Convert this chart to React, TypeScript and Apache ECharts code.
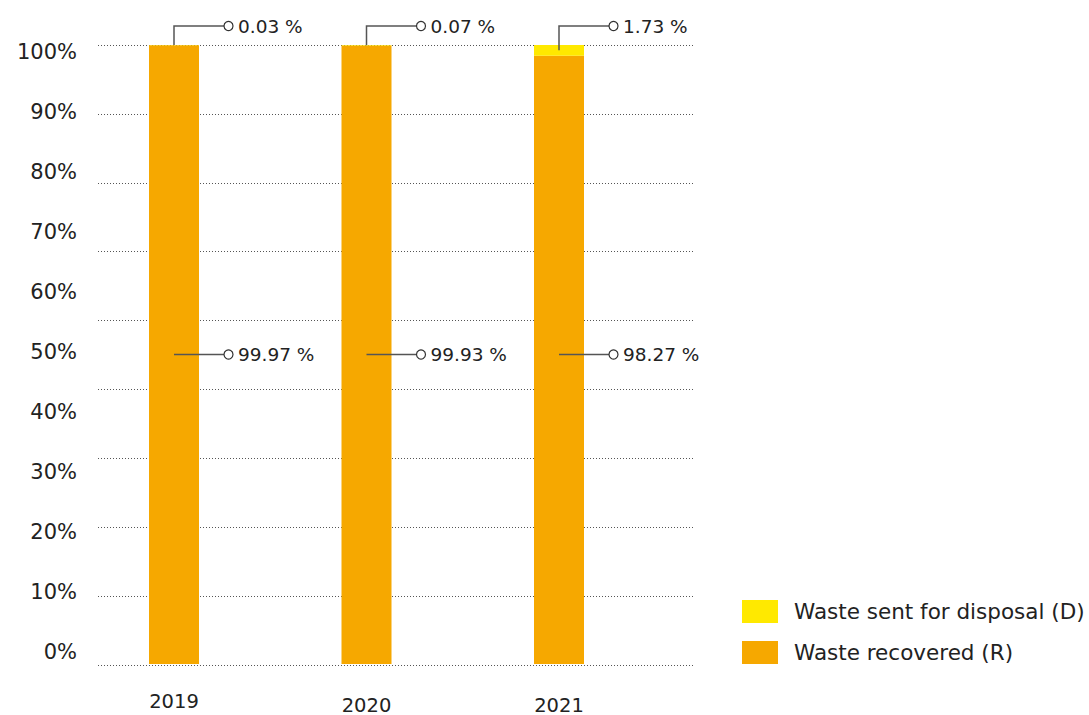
import React, { useEffect, useRef } from "react";
import * as echarts from "echarts";

const categories = ["2019", "2020", "2021"];
const recovered = [99.97, 99.93, 98.27];
const disposal = [0.03, 0.07, 1.73];
const yTickLabels = [0, 10, 20, 30, 40, 50, 60, 70, 80, 90, 100];
const seriesNames = ["Waste sent for disposal (D)", "Waste recovered (R)"];

const FONT = "DejaVu Sans";
const TEXT = "#222";
const ORANGE = "#F6A800";
const YELLOW = "#FFE900";

export default function App() {
  const ref = useRef<HTMLDivElement>(null);
  useEffect(() => {
    document.body.style.margin = "0";
    const chart = echarts.init(ref.current!, null, { renderer: "svg" });

    const labelData = categories.map((_, i) => [i, recovered[i], disposal[i]]);

    const renderLabel = (kind: "top" | "mid") => (params: any, api: any) => {
      const idx = api.value(0);
      const rec = api.value(1);
      const dis = api.value(2);
      const cx = api.coord([idx, 0])[0];
      const children: any[] = [];
      const lineStyle = { stroke: "#555", lineWidth: 1.5 };
      let y: number;
      let txt: string;
      if (kind === "top") {
        const yStart = api.coord([idx, rec + dis / 2])[1];
        y = api.coord([idx, 100])[1] - 19;
        txt = `${dis.toFixed(2)} %`;
        children.push({
          type: "polyline",
          shape: { points: [[cx, yStart], [cx, y], [cx + 50, y]] },
          style: { ...lineStyle, fill: null },
        });
      } else {
        y = api.coord([idx, (rec + dis) / 2])[1];
        txt = `${rec.toFixed(2)} %`;
        children.push({
          type: "line",
          shape: { x1: cx, y1: y, x2: cx + 50, y2: y },
          style: lineStyle,
        });
      }
      children.push({
        type: "circle",
        shape: { cx: cx + 54.5, cy: y, r: 4.5 },
        style: { fill: "#fff", stroke: "#333", lineWidth: 1.2 },
      });
      children.push({
        type: "text",
        x: cx + 64,
        y: y,
        style: {
          text: txt,
          fontSize: 18.5,
          fontFamily: FONT,
          fill: TEXT,
          verticalAlign: "middle",
          align: "left",
        },
      });
      return { type: "group", children };
    };

    chart.setOption({
      animation: false,
      textStyle: { fontFamily: FONT },
      grid: [
        { left: 98, top: 45, width: 597, height: 620 },
        { left: 77.75, top: 45, width: 577.5, height: 624 },
        { left: 98, top: 52, width: 597, height: 600 },
      ],
      xAxis: [
        { gridIndex: 0, type: "category", data: categories, show: false },
        {
          gridIndex: 1,
          type: "category",
          data: categories,
          axisLine: { show: false },
          axisTick: { show: false },
          axisLabel: {
            margin: 27.5,
            fontSize: 19.5,
            fontFamily: FONT,
            color: TEXT,
            formatter: (v: string, i: number) => (i === 0 ? `{a|${v}}` : `{b|${v}}`),
            rich: {
              a: { fontSize: 19.5, fontFamily: FONT, color: TEXT },
              b: { fontSize: 19.5, fontFamily: FONT, color: TEXT, padding: [3.5, 0, 0, 0] },
            },
          },
        },
        { gridIndex: 2, type: "category", data: categories, show: false },
      ],
      yAxis: [
        {
          gridIndex: 0,
          type: "value",
          min: 0,
          max: 9,
          interval: 1,
          axisLabel: { show: false },
          axisLine: { show: false },
          axisTick: { show: false },
          splitLine: { show: true, lineStyle: { color: "#555", type: [1, 2], width: 1 } },
        },
        {
          gridIndex: 1,
          type: "value",
          min: 0,
          max: 100,
          axisLabel: { show: false },
          axisLine: { show: false },
          axisTick: { show: false },
          splitLine: { show: false },
        },
        {
          gridIndex: 2,
          type: "value",
          min: yTickLabels[0],
          max: yTickLabels[yTickLabels.length - 1],
          interval: yTickLabels[1] - yTickLabels[0],
          axisLine: { show: false },
          axisTick: { show: false },
          splitLine: { show: false },
          axisLabel: {
            margin: 21,
            fontSize: 21,
            fontFamily: FONT,
            color: TEXT,
            formatter: "{value}%",
          },
        },
      ],
      legend: {
        orient: "vertical",
        left: 737,
        top: 595,
        itemWidth: 36,
        itemHeight: 23,
        itemGap: 18,
        icon: "rect",
        data: seriesNames,
        textStyle: { fontSize: 21.5, fontFamily: FONT, color: TEXT, padding: [0, 0, 0, 11] },
      },
      series: [
        {
          name: seriesNames[1],
          type: "bar",
          xAxisIndex: 1,
          yAxisIndex: 1,
          stack: "total",
          barWidth: 50,
          itemStyle: { color: ORANGE },
          data: recovered,
        },
        {
          name: seriesNames[0],
          type: "bar",
          xAxisIndex: 1,
          yAxisIndex: 1,
          stack: "total",
          barWidth: 50,
          itemStyle: { color: YELLOW },
          data: disposal,
        },
        {
          type: "custom",
          xAxisIndex: 1,
          yAxisIndex: 1,
          clip: false,
          silent: true,
          encode: { x: 0, y: 1 },
          renderItem: renderLabel("top"),
          data: labelData,
          z: 5,
        },
        {
          type: "custom",
          xAxisIndex: 1,
          yAxisIndex: 1,
          clip: false,
          silent: true,
          encode: { x: 0, y: 1 },
          renderItem: renderLabel("mid"),
          data: labelData,
          z: 5,
        },
      ],
    });
    return () => chart.dispose();
  }, []);
  return <div ref={ref} style={{ width: 1089, height: 715 }} />;
}
